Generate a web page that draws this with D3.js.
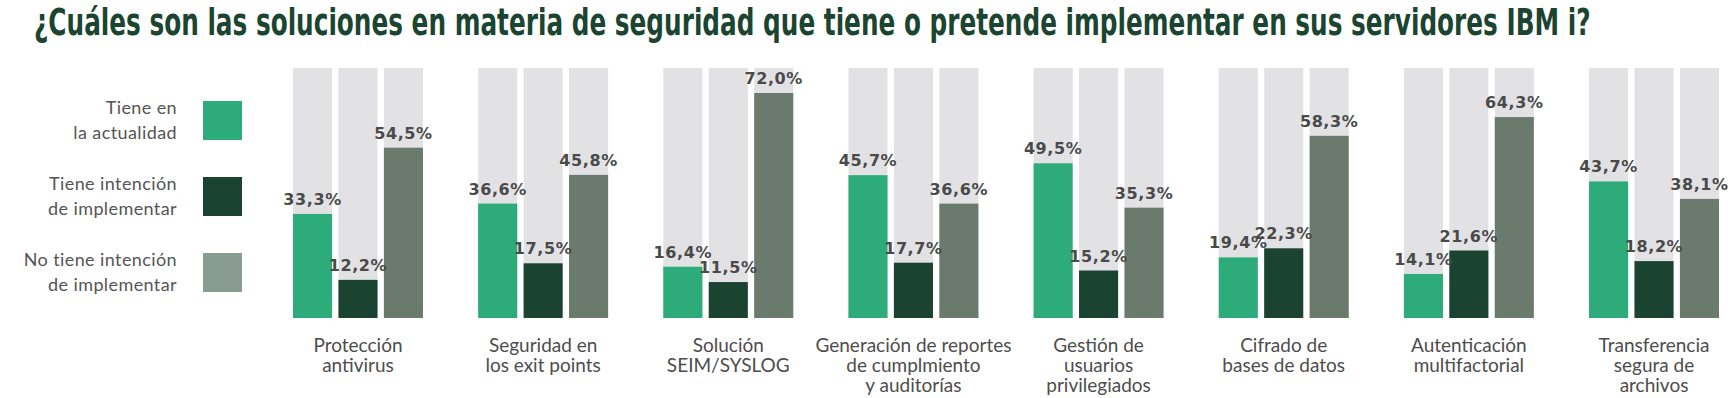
<!DOCTYPE html>
<html>
<head>
<meta charset="utf-8">
<script src="https://cdn.jsdelivr.net/npm/d3@7"></script>
<style>
  body { margin: 0; background: #fff; }
  svg { display: block; }
</style>
</head>
<body>
<svg width="1735" height="398"></svg>
<script>
(function() {
    'use strict';

    var title = "¿Cuáles son las soluciones en materia de seguridad que tiene o pretende implementar en sus servidores IBM i?";

    var categories = [
        ["Protección", "antivirus"],
        ["Seguridad en", "los exit points"],
        ["Solución", "SEIM/SYSLOG"],
        ["Generación de reportes", "de cumplmiento", "y auditorías"],
        ["Gestión de", "usuarios", "privilegiados"],
        ["Cifrado de", "bases de datos"],
        ["Autenticación", "multifactorial"],
        ["Transferencia", "segura de", "archivos"]
    ];

    var seriesNames = [
        ["Tiene en", "la actualidad"],
        ["Tiene intención", "de implementar"],
        ["No tiene intención", "de implementar"]
    ];

    var tieneActual   = [33.3, 36.6, 16.4, 45.7, 49.5, 19.4, 14.1, 43.7];
    var tieneIntencion = [12.2, 17.5, 11.5, 17.7, 15.2, 22.3, 21.6, 18.2];
    var noTiene       = [54.5, 45.8, 72.0, 36.6, 35.3, 58.3, 64.3, 38.1];

    var barColors = ["#2eab7a", "#1b4331", "#6a7b6e"];
    var legendColors = ["#2eab7a", "#1b4331", "#889c92"];
    var trackMax = 80;

    var series = [tieneActual, tieneIntencion, noTiene];
    var catKeys = categories.map(function(d) { return d.join(" "); });

    var svg = d3.select("svg");

    // title, squeezed horizontally to the width of the original
    var titleText = svg.append("text")
        .attr("fill", "#1b4530")
        .attr("font-family", "'Liberation Sans Narrow', 'DejaVu Sans Condensed', sans-serif")
        .attr("font-weight", "bold")
        .attr("font-size", 37)
        .text(title);
    var tw = titleText.node().getComputedTextLength();
    titleText.attr("transform", "translate(34,35) scale(" + (1557 / tw) + ",1)");

    var x0 = d3.scaleBand()
        .domain(catKeys)
        .range([293, 1719])
        .paddingInner(0.298)
        .paddingOuter(0);

    var x1 = d3.scaleBand()
        .domain([0, 1, 2])
        .range([0, x0.bandwidth()])
        .paddingInner(0.14);

    var y = d3.scaleLinear()
        .domain([0, trackMax])
        .range([318, 68]);

    var groups = svg.append("g")
        .attr("class", "groups")
        .selectAll("g")
        .data(catKeys)
        .enter().append("g")
            .attr("transform", function(d) { return "translate(" + x0(d) + ",0)"; });

    var barData = function(d, i) {
        return series.map(function(s, j) { return { s: j, value: s[i] }; });
    };

    // grey tracks
    groups.selectAll("rect.track")
        .data(barData)
        .enter().append("rect")
            .attr("class", "track")
            .attr("x", function(d) { return x1(d.s); })
            .attr("width", x1.bandwidth())
            .attr("y", y(trackMax))
            .attr("height", y(0) - y(trackMax))
            .attr("fill", "#e2e2e4");

    groups.selectAll("rect.bar")
        .data(barData)
        .enter().append("rect")
            .attr("class", "bar")
            .attr("x", function(d) { return x1(d.s); })
            .attr("width", x1.bandwidth())
            .attr("y", function(d) { return y(d.value); })
            .attr("height", function(d) { return y(0) - y(d.value); })
            .attr("fill", function(d) { return barColors[d.s]; });

    groups.selectAll("text.value")
        .data(barData)
        .enter().append("text")
            .attr("class", "value")
            .attr("x", function(d) { return x1(d.s) + x1.bandwidth() / 2; })
            .attr("y", function(d) { return y(d.value) - 9; })
            .attr("text-anchor", "middle")
            .attr("fill", "#4a4a4a")
            .attr("font-family", "'DejaVu Sans', sans-serif")
            .attr("font-weight", "bold")
            .attr("font-size", 16)
            .attr("letter-spacing", 0.6)
            .text(function(d) { return d.value.toFixed(1).replace(".", ",") + "%"; });

    // category labels
    groups.append("text")
        .attr("class", "category")
        .attr("x", x0.bandwidth() / 2)
        .attr("y", 351.5)
        .attr("text-anchor", "middle")
        .attr("fill", "#4d4d4d")
        .attr("font-family", "Lato, sans-serif")
        .attr("font-size", 19)
        .selectAll("tspan")
        .data(function(d, i) { return categories[i]; })
        .enter().append("tspan")
            .attr("x", x0.bandwidth() / 2)
            .attr("dy", function(d, i) { return i ? 20.3 : 0; })
            .text(function(d) { return d; });

    // legend
    var legend = svg.append("g")
        .attr("class", "legend")
        .selectAll("g")
        .data(seriesNames)
        .enter().append("g")
            .attr("transform", function(d, i) { return "translate(0," + (101 + i * 76) + ")"; });

    legend.append("rect")
        .attr("x", 203)
        .attr("width", 39)
        .attr("height", 39)
        .attr("fill", function(d, i) { return legendColors[i]; });

    legend.append("text")
        .attr("text-anchor", "end")
        .attr("fill", "#555")
        .attr("font-family", "Lato, sans-serif")
        .attr("font-size", 18)
        .attr("letter-spacing", 0.4)
        .selectAll("tspan")
        .data(function(d) { return d; })
        .enter().append("tspan")
            .attr("x", 177)
            .attr("y", function(d, i) { return 13 + i * 25; })
            .text(function(d) { return d; });
}());
</script>
</body>
</html>
